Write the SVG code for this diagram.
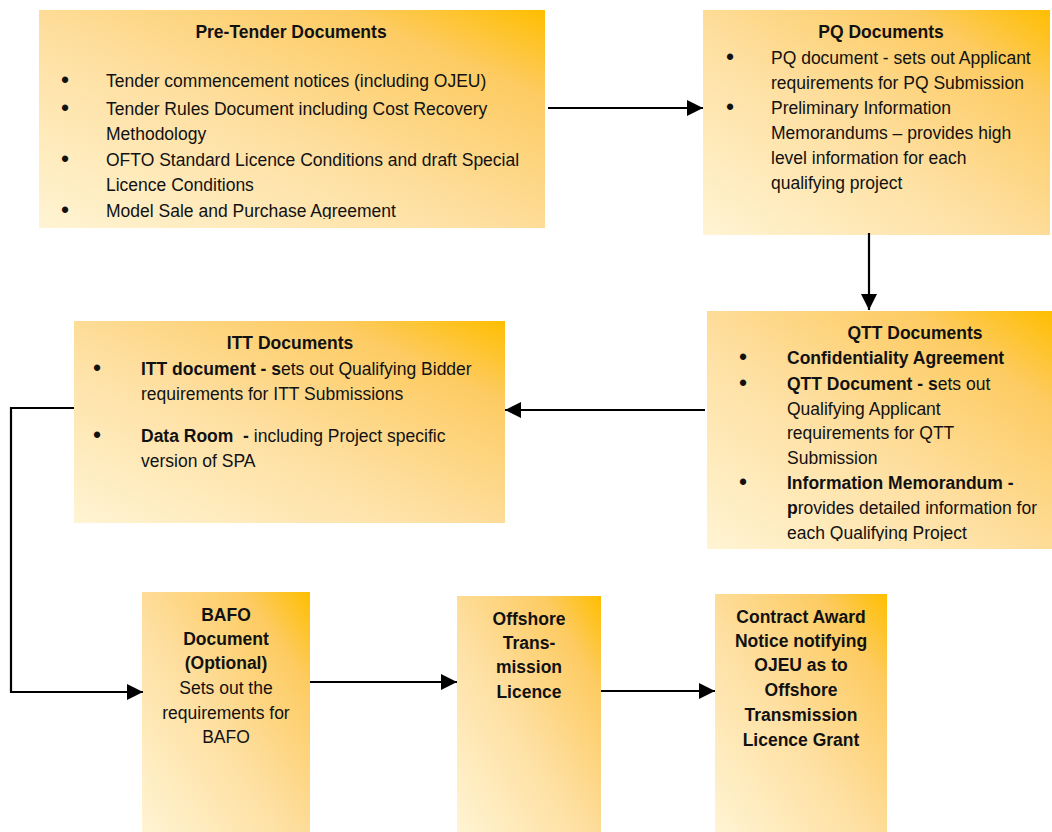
<svg xmlns="http://www.w3.org/2000/svg" width="1052" height="832" viewBox="0 0 1052 832">
<defs>
<linearGradient id="g" x1="0" y1="1" x2="1" y2="0">
<stop offset="0" stop-color="#FFF4D3"/>
<stop offset="0.45" stop-color="#FEDFA0"/>
<stop offset="0.8" stop-color="#FDCB62"/>
<stop offset="1" stop-color="#FFBE00"/>
</linearGradient>
<marker id="ah" viewBox="0 0 16 16" refX="16" refY="8" markerWidth="16" markerHeight="16" markerUnits="userSpaceOnUse" orient="auto">
<path d="M0,0 L16,8 L0,16 Z" fill="#000"/>
</marker>
<clipPath id="c1"><rect x="39" y="10" width="506" height="209"/></clipPath>
<clipPath id="c3"><rect x="707" y="311" width="345" height="230"/></clipPath>
</defs>
<style>
.box{fill:url(#g);}
text{font-family:"Liberation Sans",Arial,sans-serif;font-size:17.5px;fill:#111;}
.b{font-weight:bold;}
.m{text-anchor:middle;}
.bu{font-size:23px;}
.ln{fill:none;stroke:#000;stroke-width:2.2;}
</style>
<rect width="1052" height="832" fill="#fff"/>

<g id="pretender">
<rect class="box" x="39" y="10" width="506" height="218"/>
<text class="b m" x="291" y="38">Pre-Tender Documents</text>
<g clip-path="url(#c1)">
<text class="bu" x="61" y="88">•</text>
<text x="106" y="87">Tender commencement notices (including OJEU)</text>
<text class="bu" x="61" y="116">•</text>
<text x="106" y="115">Tender Rules Document including Cost Recovery</text>
<text x="106" y="140">Methodology</text>
<text class="bu" x="61" y="167">•</text>
<text x="106" y="166">OFTO Standard Licence Conditions and draft Special</text>
<text x="106" y="191">Licence Conditions</text>
<text class="bu" x="61" y="218">•</text>
<text x="106" y="217">Model Sale and Purchase Agreement</text>
</g>
</g>

<g id="pq">
<rect class="box" x="703" y="10" width="347" height="225"/>
<text class="b m" x="881" y="38">PQ Documents</text>
<text class="bu" x="726" y="65">•</text>
<text x="771" y="64">PQ document - sets out Applicant</text>
<text x="771" y="89">requirements for PQ Submission</text>
<text class="bu" x="726" y="115">•</text>
<text x="771" y="114">Preliminary Information</text>
<text x="771" y="139">Memorandums – provides high</text>
<text x="771" y="164">level information for each</text>
<text x="771" y="189">qualifying project</text>
</g>

<g id="qtt">
<rect class="box" x="707" y="311" width="345" height="238"/>
<text class="b m" x="915" y="339">QTT Documents</text>
<g clip-path="url(#c3)">
<text class="bu" x="739" y="365">•</text>
<text class="b" x="787" y="364">Confidentiality Agreement</text>
<text class="bu" x="739" y="391">•</text>
<text x="787" y="390"><tspan class="b">QTT Document - s</tspan>ets out</text>
<text x="787" y="415">Qualifying Applicant</text>
<text x="787" y="439">requirements for QTT</text>
<text x="787" y="464">Submission</text>
<text class="bu" x="739" y="490">•</text>
<text x="787" y="489" class="b">Information Memorandum -</text>
<text x="787" y="514"><tspan class="b">p</tspan>rovides detailed information for</text>
<text x="787" y="539">each Qualifying Project</text>
</g>
</g>

<g id="itt">
<rect class="box" x="74" y="321" width="431" height="202"/>
<text class="b m" x="290" y="349">ITT Documents</text>
<text class="bu" x="93" y="376">•</text>
<text x="141" y="375"><tspan class="b">ITT document - s</tspan>ets out Qualifying Bidder</text>
<text x="141" y="400">requirements for ITT Submissions</text>
<text class="bu" x="93" y="443">•</text>
<text x="141" y="442" xml:space="preserve"><tspan class="b">Data Room  -</tspan> including Project specific</text>
<text x="141" y="467">version of SPA</text>
</g>

<g id="bafo">
<rect class="box" x="142" y="592" width="168" height="240"/>
<text class="b m" x="226" y="621">BAFO</text>
<text class="b m" x="226" y="645">Document</text>
<text class="b m" x="226" y="669">(Optional)</text>
<text class="m" x="226" y="694">Sets out the</text>
<text class="m" x="226" y="719">requirements for</text>
<text class="m" x="226" y="743">BAFO</text>
</g>

<g id="licence">
<rect class="box" x="457" y="596" width="144" height="236"/>
<text class="b m" x="529" y="625">Offshore</text>
<text class="b m" x="529" y="649">Trans-</text>
<text class="b m" x="529" y="673">mission</text>
<text class="b m" x="529" y="698">Licence</text>
</g>

<g id="award">
<rect class="box" x="715" y="594" width="172" height="238"/>
<text class="b m" x="801" y="623">Contract Award</text>
<text class="b m" x="801" y="647">Notice notifying</text>
<text class="b m" x="801" y="671">OJEU as to</text>
<text class="b m" x="801" y="696">Offshore</text>
<text class="b m" x="801" y="721">Transmission</text>
<text class="b m" x="801" y="746">Licence Grant</text>
</g>

<g id="connectors">
<path class="ln" d="M548,108 H703" marker-end="url(#ah)"/>
<path class="ln" d="M869,233 V310" marker-end="url(#ah)"/>
<path class="ln" d="M705,410 H505" marker-end="url(#ah)"/>
<path class="ln" d="M74,408 H11 V692 H143" marker-end="url(#ah)"/>
<path class="ln" d="M310,682 H457" marker-end="url(#ah)"/>
<path class="ln" d="M601,691 H715" marker-end="url(#ah)"/>
</g>
</svg>
